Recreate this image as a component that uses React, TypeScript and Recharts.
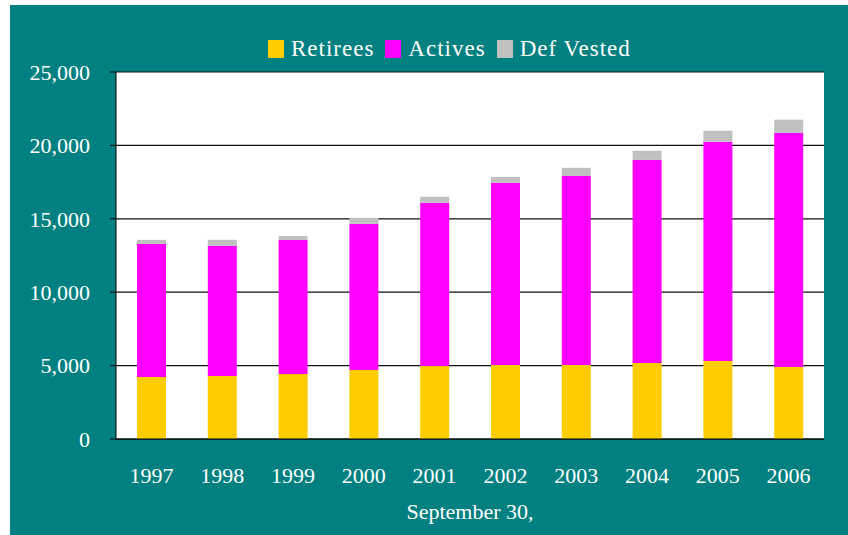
import {
  BarChart,
  Bar,
  XAxis,
  YAxis,
  CartesianGrid,
  Legend,
} from "recharts";

const years = ["1997", "1998", "1999", "2000", "2001", "2002", "2003", "2004", "2005", "2006"];
const retirees = [4230, 4300, 4430, 4700, 4980, 5040, 5040, 5180, 5320, 4910];
const actives = [9060, 8860, 9130, 9950, 11110, 12410, 12890, 13840, 14930, 15950];
const defVested = [275, 410, 270, 410, 410, 410, 545, 615, 750, 890];
const yTicks = [0, 5000, 10000, 15000, 20000, 25000];

const data = years.map((year, i) => ({
  year,
  retirees: retirees[i],
  actives: actives[i],
  defVested: defVested[i],
}));

const FONT = '"Liberation Serif", "Times New Roman", serif';
const TEAL = "#008080";

const legendItems = [
  { label: "Retirees", color: "#FFCC00" },
  { label: "Actives", color: "#FF00FF" },
  { label: "Def Vested", color: "#C0C0C0" },
];

const ChartLegend = () => (
  <div
    style={{
      height: 38,
      display: "flex",
      alignItems: "flex-start",
      paddingLeft: 258,
      fontFamily: FONT,
      fontSize: 23,
      letterSpacing: 1,
      color: "#fff",
    }}
  >
    {legendItems.map((item) => (
      <div key={item.label} style={{ display: "flex", alignItems: "center", marginRight: 11, height: 30 }}>
        <span style={{ width: 16, height: 18, background: item.color, marginRight: 7, display: "inline-block" }} />
        <span>{item.label}</span>
      </div>
    ))}
  </div>
);

const tickStyle = { fill: "#fff", fontSize: 22, fontFamily: FONT };

export default function App() {
  return (
    <div style={{ position: "absolute", left: 10, top: 5, width: 838, height: 530, background: TEAL }}>
      <BarChart width={838} height={530} data={data} margin={{ top: 29, right: 24, left: 0, bottom: 0 }}>
        <Legend verticalAlign="top" align="left" content={() => <ChartLegend />} />
        <CartesianGrid vertical={false} stroke="#111" strokeWidth={1.2} fill="#fff" fillOpacity={1} />
        <XAxis
          dataKey="year"
          height={96}
          axisLine={{ stroke: "#000" }}
          tickLine={false}
          tickMargin={22}
          tick={tickStyle}
          label={{ value: "September 30,", position: "insideBottom", offset: 16, fill: "#fff", fontSize: 22, fontFamily: FONT }}
        />
        <YAxis
          width={106}
          domain={[0, 25000]}
          ticks={yTicks}
          interval={0}
          axisLine={{ stroke: "#000" }}
          tickLine={{ stroke: "#000" }}
          tickSize={6}
          tickMargin={20}
          tick={tickStyle}
          tickFormatter={(v: number) => v.toLocaleString("en-US")}
        />
        <Bar dataKey="retirees" name="Retirees" stackId="a" fill="#FFCC00" barSize={29} isAnimationActive={false} />
        <Bar dataKey="actives" name="Actives" stackId="a" fill="#FF00FF" barSize={29} isAnimationActive={false} />
        <Bar dataKey="defVested" name="Def Vested" stackId="a" fill="#C0C0C0" barSize={29} isAnimationActive={false} />
      </BarChart>
    </div>
  );
}
